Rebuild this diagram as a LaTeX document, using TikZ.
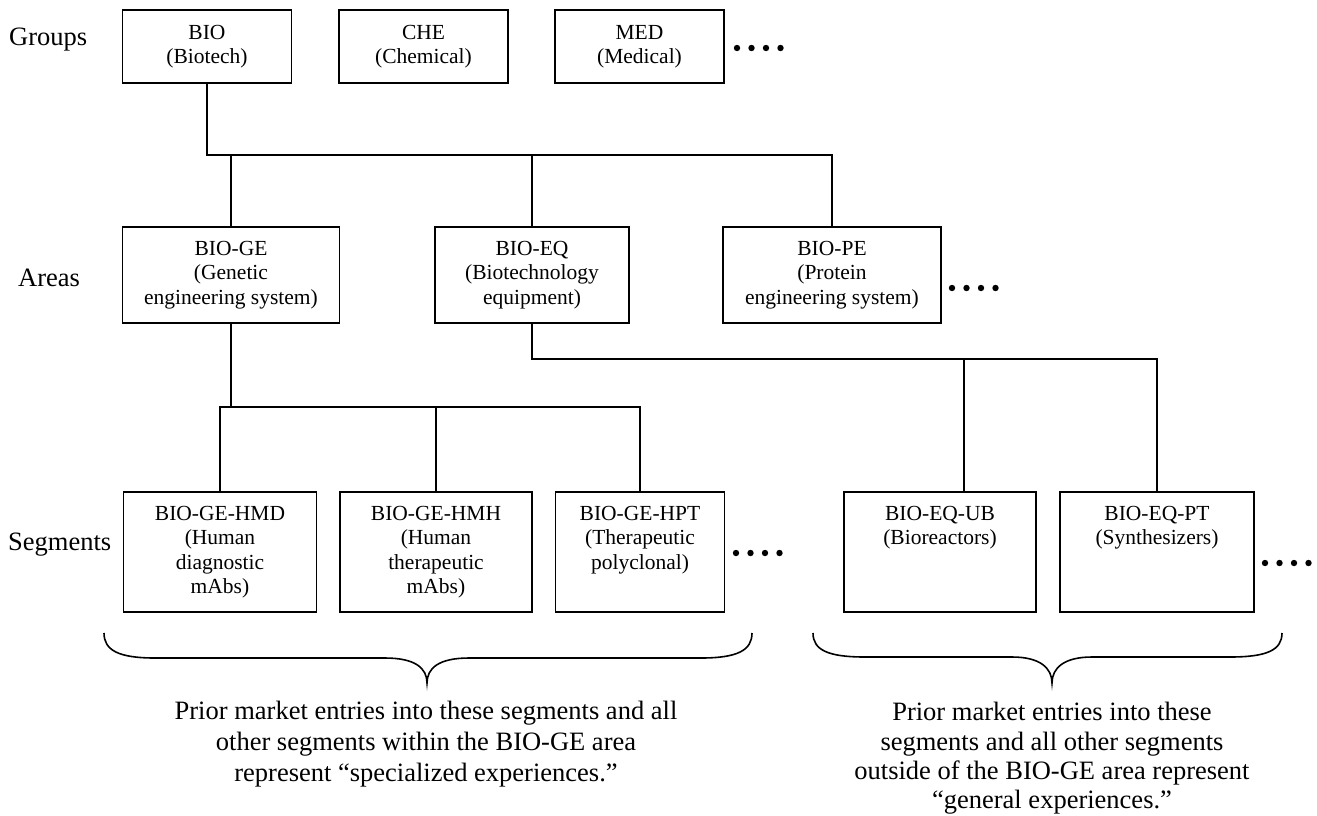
\documentclass[tikz,border=0pt]{standalone}
\usepackage{fontspec}
\setmainfont{Liberation Serif}
\usetikzlibrary{calc}
\begin{document}
\begin{tikzpicture}[x=1pt,y=-1pt,
  box/.style={draw, line width=1.7pt, inner sep=0pt, align=center,
    font=\fontsize{21.5}{24.5}\selectfont},
  grp/.style={box, minimum width=169pt, minimum height=73pt},
  area/.style={box, minimum height=96pt},
  seg/.style={box, minimum height=120pt},
  link/.style={line width=1.7pt},
  lbl/.style={anchor=base west, inner sep=0pt, font=\fontsize{26.5}{31}\selectfont},
  note/.style={align=center, inner sep=0pt, font=\fontsize{26.5}{31}\selectfont},
  noteb/.style={align=center, inner sep=0pt, font=\fontsize{26.5}{29.3}\selectfont},
  bracepath/.style={line width=1.6pt},
  dotfill/.style={fill=black}
]
\useasboundingbox (0,0) rectangle (1317,815);

% level labels
\node[lbl] (lg) at (9,45) {Groups};
\node[lbl] (la) at (18,286) {Areas};
\node[lbl] (ls) at (8,550) {Segments};

% groups
\node[grp] (bio) at (207,46.5) {BIO\\(Biotech)};
\node[grp] (che) at (423.5,46.5) {CHE\\(Chemical)};
\node[grp] (med) at (639.5,46.5) {MED\\(Medical)};

% areas
\node[area, minimum width=217pt] (ge) at (231,275) {BIO-GE\\(Genetic\\engineering system)};
\node[area, minimum width=194pt] (eq) at (532,275) {BIO-EQ\\(Biotechnology\\equipment)};
\node[area, minimum width=218pt] (pe) at (832,275) {BIO-PE\\(Protein\\engineering system)};

% segments
\node[seg, minimum width=193pt] (hmd) at (220,552) {BIO-GE-HMD\\(Human\\diagnostic\\mAbs)};
\node[seg, minimum width=192pt] (hmh) at (436,552) {BIO-GE-HMH\\(Human\\therapeutic\\mAbs)};
\node[seg, minimum width=169pt] (hpt) at (640,552) {BIO-GE-HPT\\(Therapeutic\\polyclonal)\\\phantom{()}};
\node[seg, minimum width=192pt] (ub) at (940,552) {BIO-EQ-UB\\(Bioreactors)\\\phantom{()}\\\phantom{()}};
\node[seg, minimum width=194pt] (pt) at (1157,552) {BIO-EQ-PT\\(Synthesizers)\\\phantom{()}\\\phantom{()}};

% connectors
\coordinate (j1) at (bio.south |- 0,155);
\coordinate (j2) at (ge.south |- 0,407);
\coordinate (j3) at (eq.south |- 0,359);
\coordinate (ubtop) at ($(ub.north west)!0.625!(ub.north east)$);

\draw[link] (bio.south) -- (j1) -| (pe.north);
\draw[link] (ge.north) -- (ge.north |- j1);
\draw[link] (eq.north) -- (eq.north |- j1);

\draw[link] (ge.south) -- (j2);
\draw[link] (hmd.north) -- (hmd.north |- j2) -- (hpt.north |- j2) -- (hpt.north);
\draw[link] (hmh.north) -- (hmh.north |- j2);

\draw[link] (eq.south) -- (j3) -| (pt.north);
\draw[link] (ubtop) -- (ubtop |- j3);

% continuation dots
\foreach \i in {0,1,2,3} {
  \fill[dotfill] (737+14.5*\i,48) circle[radius=3.2pt];
  \fill[dotfill] (952+14.5*\i,288) circle[radius=3.2pt];
  \fill[dotfill] (736+14.5*\i,553) circle[radius=3.2pt];
  \fill[dotfill] (1265+14.5*\i,563) circle[radius=3.2pt];
}

% braces
\draw[bracepath] (104,633) .. controls (104,650) and (118,658) .. (155,658)
  -- (385,658) .. controls (415,658) and (427,668) .. (427,683)
  .. controls (427,668) and (439,658) .. (469,658)
  -- (701,658) .. controls (738,658) and (752,650) .. (752,633);
\draw[bracepath] (813,633) .. controls (813,650) and (828,657) .. (865,657)
  -- (1012,657) .. controls (1040,657) and (1052,668) .. (1052,683)
  .. controls (1052,668) and (1064,657) .. (1092,657)
  -- (1230,657) .. controls (1267,657) and (1282,650) .. (1282,633);

% notes
\node[note] (n1) at (426,744) {Prior market entries into these segments and all\\other segments within the BIO-GE area\\represent “specialized experiences.”};
\node[noteb] (n2) at (1052,758.5) {Prior market entries into these\\segments and all other segments\\outside of the BIO-GE area represent\\“general experiences.”};
\end{tikzpicture}
\end{document}
